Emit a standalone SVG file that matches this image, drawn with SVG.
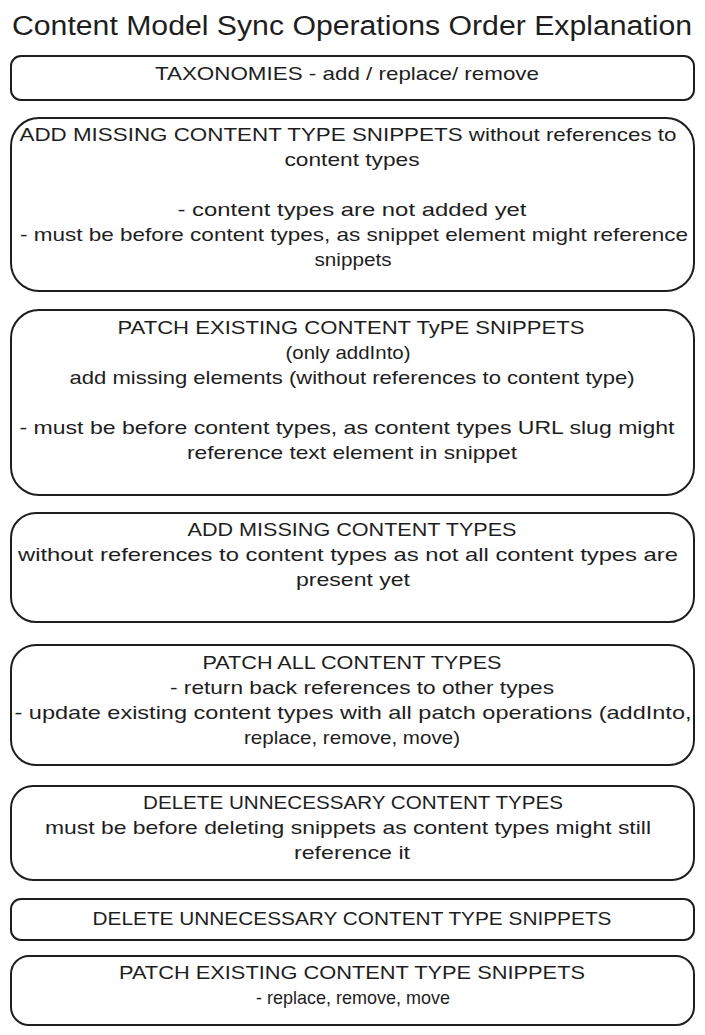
<svg xmlns="http://www.w3.org/2000/svg" width="705" height="1035" viewBox="0 0 705 1035">
  <style>
    .box { fill: #ffffff; stroke: #1e1e1e; stroke-width: 2; }
    .t { font-family: "Liberation Sans", "DejaVu Sans", sans-serif; font-size: 19px; fill: #1e1e1e; text-anchor: middle; }
    .title { font-family: "Liberation Sans", "DejaVu Sans", sans-serif; font-size: 27px; fill: #1e1e1e; text-anchor: middle; }
  </style>
  <rect width="705" height="1035" fill="#ffffff"/>

  <text class="title" x="352" y="35" textLength="680" lengthAdjust="spacingAndGlyphs">Content Model Sync Operations Order Explanation</text>

  <g id="connectors"></g>

  <g id="taxonomies">
    <rect class="box" x="11" y="56" width="683" height="44" rx="10"/>
    <text class="t" x="347" y="80" textLength="384" lengthAdjust="spacingAndGlyphs">TAXONOMIES - add / replace/ remove</text>
  </g>

  <g id="add-snippets">
    <rect class="box" x="11" y="118" width="683" height="173" rx="28"/>
    <text class="t" x="348" y="141" textLength="657" lengthAdjust="spacingAndGlyphs">ADD MISSING CONTENT TYPE SNIPPETS without references to</text>
    <text class="t" x="352" y="166" textLength="135" lengthAdjust="spacingAndGlyphs">content types</text>
    <text class="t" x="352" y="216" textLength="349" lengthAdjust="spacingAndGlyphs">- content types are not added yet</text>
    <text class="t" x="354" y="241" textLength="668" lengthAdjust="spacingAndGlyphs">- must be before content types, as snippet element might reference</text>
    <text class="t" x="353" y="266" textLength="77" lengthAdjust="spacingAndGlyphs">snippets</text>
  </g>

  <g id="patch-snippets-add">
    <rect class="box" x="11" y="310" width="683" height="185" rx="28"/>
    <text class="t" x="351" y="334" textLength="467" lengthAdjust="spacingAndGlyphs">PATCH EXISTING CONTENT TyPE SNIPPETS</text>
    <text class="t" x="348" y="359" textLength="125" lengthAdjust="spacingAndGlyphs">(only addInto)</text>
    <text class="t" x="352" y="384" textLength="565" lengthAdjust="spacingAndGlyphs">add missing elements (without references to content type)</text>
    <text class="t" x="347" y="434" textLength="655" lengthAdjust="spacingAndGlyphs">- must be before content types, as content types URL slug might</text>
    <text class="t" x="352" y="459" textLength="330" lengthAdjust="spacingAndGlyphs">reference text element in snippet</text>
  </g>

  <g id="add-types">
    <rect class="box" x="11" y="513" width="683" height="109" rx="25"/>
    <text class="t" x="352" y="536" textLength="329" lengthAdjust="spacingAndGlyphs">ADD MISSING CONTENT TYPES</text>
    <text class="t" x="348" y="561" textLength="660" lengthAdjust="spacingAndGlyphs">without references to content types as not all content types are</text>
    <text class="t" x="353" y="586" textLength="114" lengthAdjust="spacingAndGlyphs">present yet</text>
  </g>

  <g id="patch-types">
    <rect class="box" x="11" y="645" width="683" height="120" rx="25"/>
    <text class="t" x="352" y="669" textLength="299" lengthAdjust="spacingAndGlyphs">PATCH ALL CONTENT TYPES</text>
    <text class="t" x="362" y="694" textLength="384" lengthAdjust="spacingAndGlyphs">- return back references to other types</text>
    <text class="t" x="353" y="719" textLength="677" lengthAdjust="spacingAndGlyphs">- update existing content types with all patch operations (addInto,</text>
    <text class="t" x="352" y="744" textLength="216" lengthAdjust="spacingAndGlyphs">replace, remove, move)</text>
  </g>

  <g id="delete-types">
    <rect class="box" x="11" y="786" width="683" height="94" rx="22"/>
    <text class="t" x="353" y="809" textLength="420" lengthAdjust="spacingAndGlyphs">DELETE UNNECESSARY CONTENT TYPES</text>
    <text class="t" x="348" y="834" textLength="606" lengthAdjust="spacingAndGlyphs">must be before deleting snippets as content types might still</text>
    <text class="t" x="352" y="859" textLength="116" lengthAdjust="spacingAndGlyphs">reference it</text>
  </g>

  <g id="delete-snippets">
    <rect class="box" x="11" y="899" width="683" height="41" rx="10"/>
    <text class="t" x="352" y="925" textLength="519" lengthAdjust="spacingAndGlyphs">DELETE UNNECESSARY CONTENT TYPE SNIPPETS</text>
  </g>

  <g id="patch-snippets-rest">
    <rect class="box" x="11" y="956" width="683" height="69" rx="18"/>
    <text class="t" x="352" y="979" textLength="466" lengthAdjust="spacingAndGlyphs">PATCH EXISTING CONTENT TYPE SNIPPETS</text>
    <text class="t" x="353" y="1004" textLength="194" lengthAdjust="spacingAndGlyphs">- replace, remove, move</text>
  </g>
</svg>
